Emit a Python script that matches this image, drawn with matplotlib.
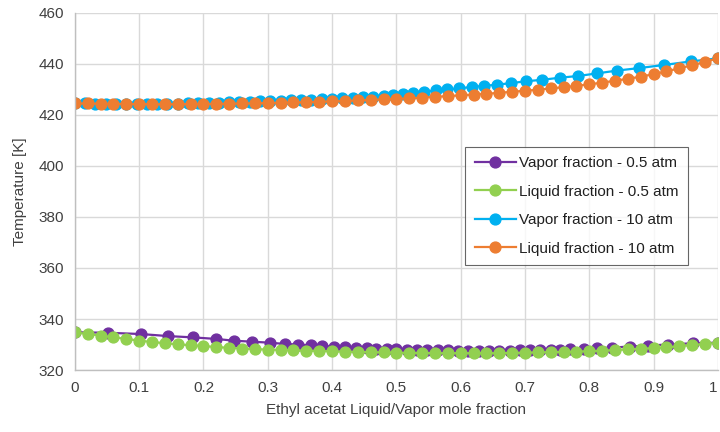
"""
T-x-y diagram for ethyl acetate at 0.5 atm and 10 atm (Excel-style chart).
"""

import matplotlib
matplotlib.use("Agg")
import matplotlib.pyplot as plt

# ---------------------------------------------------------------------------
# Data
# ---------------------------------------------------------------------------

# liquid mole fraction grid shared by both liquid series
x_liq = [0.00, 0.02, 0.04, 0.06, 0.08, 0.10, 0.12, 0.14, 0.16, 0.18,
         0.20, 0.22, 0.24, 0.26, 0.28, 0.30, 0.32, 0.34, 0.36, 0.38,
         0.40, 0.42, 0.44, 0.46, 0.48, 0.50, 0.52, 0.54, 0.56, 0.58,
         0.60, 0.62, 0.64, 0.66, 0.68, 0.70, 0.72, 0.74, 0.76, 0.78,
         0.80, 0.82, 0.84, 0.86, 0.88, 0.90, 0.92, 0.94, 0.96, 0.98, 1.00]

T_liq_05 = [334.8, 334.1, 333.5, 332.8, 332.2, 331.5, 331.0, 330.5, 330.1, 329.7,
            329.4, 329.0, 328.7, 328.4, 328.2, 328.0, 327.9, 327.7, 327.6, 327.5,
            327.3, 327.2, 327.1, 327.0, 326.9, 326.8, 326.7, 326.7, 326.6, 326.6,
            326.6, 326.6, 326.6, 326.6, 326.7, 326.8, 326.9, 327.0, 327.1, 327.2,
            327.4, 327.6, 327.8, 328.1, 328.3, 328.6, 328.9, 329.3, 329.8, 330.2, 330.7]

x_vap_05 = [0.000, 0.052, 0.103, 0.145, 0.183, 0.219, 0.247, 0.276, 0.304, 0.327,
            0.347, 0.367, 0.385, 0.403, 0.420, 0.437, 0.454, 0.469, 0.485, 0.500,
            0.516, 0.532, 0.548, 0.564, 0.580, 0.596, 0.612, 0.628, 0.644, 0.660,
            0.676, 0.692, 0.708, 0.724, 0.740, 0.755, 0.770, 0.792, 0.812, 0.836,
            0.863, 0.892, 0.923, 0.962, 1.000]
T_vap_05 = [334.8, 334.6, 334.1, 333.3, 332.8, 332.2, 331.5, 331.1, 330.7, 330.2,
            330.0, 329.7, 329.4, 329.2, 328.9, 328.8, 328.5, 328.4, 328.3, 328.1,
            328.0, 327.9, 327.8, 327.7, 327.7, 327.6, 327.6, 327.6, 327.6, 327.6,
            327.6, 327.7, 327.7, 327.8, 327.9, 328.0, 328.1, 328.3, 328.5, 328.8,
            329.2, 329.6, 330.0, 330.5, 330.7]

x_vap_10 = [0.000, 0.016, 0.032, 0.048, 0.064, 0.080, 0.096, 0.112, 0.128, 0.144,
            0.160, 0.176, 0.192, 0.208, 0.224, 0.240, 0.256, 0.272, 0.288, 0.304,
            0.320, 0.336, 0.352, 0.368, 0.384, 0.400, 0.416, 0.432, 0.448, 0.464,
            0.480, 0.495, 0.510, 0.526, 0.543, 0.561, 0.578, 0.597, 0.617, 0.636,
            0.657, 0.679, 0.701, 0.727, 0.754, 0.783, 0.812, 0.843, 0.878, 0.916,
            0.958, 1.000]
T_vap_10 = [424.5, 424.5, 424.4, 424.4, 424.3, 424.3, 424.3, 424.3, 424.3, 424.3,
            424.4, 424.5, 424.6, 424.7, 424.8, 424.9, 425.0, 425.1, 425.3, 425.4,
            425.6, 425.7, 425.9, 426.0, 426.2, 426.4, 426.6, 426.8, 427.0, 427.2,
            427.5, 427.9, 428.3, 428.7, 429.1, 429.6, 430.0, 430.4, 431.0, 431.4,
            431.9, 432.5, 433.2, 433.8, 434.6, 435.3, 436.3, 437.4, 438.4, 439.6,
            441.0, 442.2]

T_liq_10 = [424.5, 424.5, 424.4, 424.4, 424.3, 424.3, 424.2, 424.2, 424.2, 424.3,
            424.3, 424.4, 424.4, 424.5, 424.6, 424.7, 424.8, 424.9, 425.0, 425.2,
            425.3, 425.5, 425.7, 425.9, 426.1, 426.3, 426.5, 426.8, 427.1, 427.4,
            427.7, 428.0, 428.3, 428.7, 429.1, 429.5, 429.9, 430.4, 430.9, 431.4,
            432.0, 432.7, 433.4, 434.2, 435.0, 436.0, 437.1, 438.3, 439.5, 440.8, 442.2]

x_ticks = [0, 0.1, 0.2, 0.3, 0.4, 0.5, 0.6, 0.7, 0.8, 0.9, 1]
x_ticklabels = ["0", "0.1", "0.2", "0.3", "0.4", "0.5", "0.6", "0.7", "0.8", "0.9", "1"]
y_ticks = [320, 340, 360, 380, 400, 420, 440, 460]

# ---------------------------------------------------------------------------
# Plot
# ---------------------------------------------------------------------------

plt.rcParams["font.family"] = ["Liberation Sans", "DejaVu Sans"]

fig = plt.figure(figsize=(7.2, 4.32), dpi=100)
ax = fig.add_axes([0.104, 0.1435, 0.893, 0.8265])

style = dict(marker="o", markersize=7.8, linewidth=1.6)
ax.plot(x_vap_05, T_vap_05, color="#7030A0", label="Vapor fraction - 0.5 atm", **style)
ax.plot(x_liq, T_liq_05, color="#92D050", label="Liquid fraction - 0.5 atm", **style)
ax.plot(x_vap_10, T_vap_10, color="#00B0F0", label="Vapor fraction - 10 atm", **style)
ax.plot(x_liq, T_liq_10, color="#ED7D31", label="Liquid fraction - 10 atm", **style)

ax.set_xlim(0, 1)
ax.set_ylim(320, 460)
ax.set_xticks(x_ticks)
ax.set_xticklabels(x_ticklabels)
ax.set_yticks(y_ticks)

ax.grid(True, color="#d9d9d9", linewidth=1.0)
ax.set_axisbelow(True)
for side in ("top", "right"):
    ax.spines[side].set_visible(False)
for side in ("left", "bottom"):
    ax.spines[side].set_color("#bfbfbf")
    ax.spines[side].set_linewidth(1.0)

ax.tick_params(length=0, labelsize=11, labelcolor="#404040", pad=8)
# keep the last x label inside the canvas
ax.get_xticklabels()[-1].set_horizontalalignment("right")
ax.set_xlabel("Ethyl acetat Liquid/Vapor mole fraction", fontsize=11, color="#404040", labelpad=6)
ax.set_ylabel("Temperature [K]", fontsize=11, color="#404040", labelpad=8)

leg = ax.legend(loc="upper right", bbox_to_anchor=(0.953, 0.625), borderaxespad=0,
                fontsize=11, frameon=True, fancybox=False, handlelength=2.7,
                labelspacing=0.95, handletextpad=0.2, borderpad=0.6)
leg.get_frame().set_edgecolor("#404040")
leg.get_frame().set_linewidth(0.8)
for t in leg.get_texts():
    t.set_color("#202020")

fig.savefig("out.png", dpi=100)
plt.close(fig)
